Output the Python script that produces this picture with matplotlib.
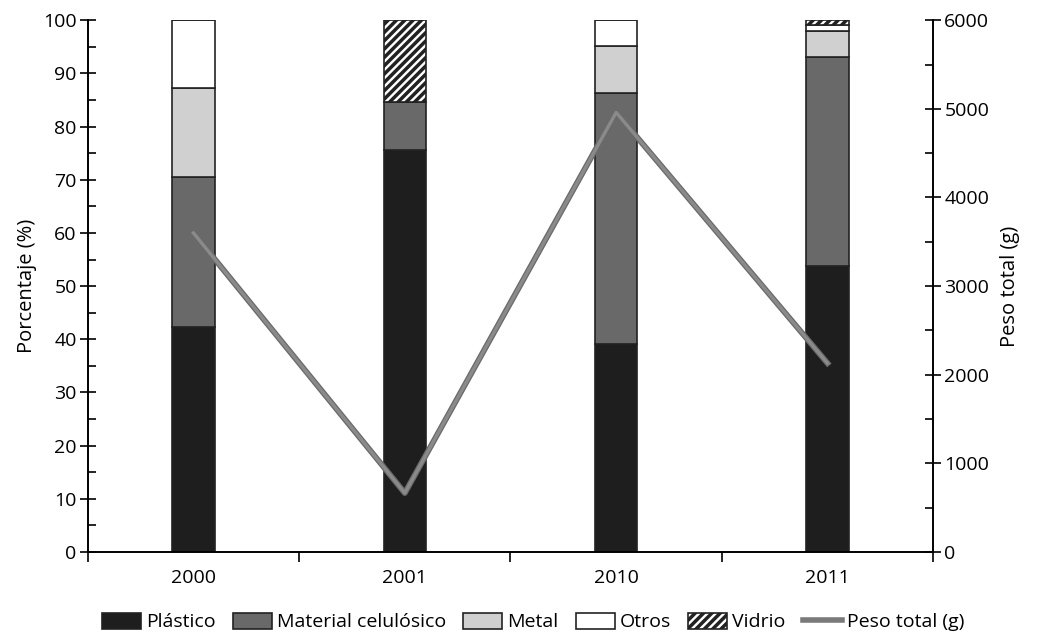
import matplotlib.pyplot as plt
import matplotlib.patheffects as pe
from matplotlib.patches import Patch
from matplotlib.lines import Line2D
from matplotlib.ticker import MultipleLocator
import numpy as np

plt.rcParams['font.family'] = ['Open Sans', 'DejaVu Sans']
plt.rcParams['hatch.linewidth'] = 2.5

# datos
anios = ['2000', '2001', '2010', '2011']
plastico = [42.3, 75.6, 39.1, 53.8]
celulosico = [28.2, 9.0, 47.2, 39.2]
metal = [16.7, 0.0, 8.8, 5.0]
otros = [12.8, 0.0, 4.9, 1.2]
vidrio = [0.0, 15.4, 0.0, 0.8]
peso_total = [3600, 665, 4960, 2130]

x = np.arange(len(anios))
ancho = 0.2

fig, ax = plt.subplots(figsize=(10.45, 6.33), dpi=100)
fig.subplots_adjust(left=0.084, right=0.893, top=0.968, bottom=0.128)

capas = [
    ('Plástico', plastico, '#1e1e1e', None),
    ('Material celulósico', celulosico, '#696969', None),
    ('Metal', metal, '#d0d0d0', None),
    ('Otros', otros, 'white', None),
    ('Vidrio', vidrio, 'white', '////'),
]
base = np.zeros(len(anios))
handles = []
for nombre, vals, color, hatch in capas:
    vals = np.array(vals)
    ax.bar(x, vals, ancho, bottom=base, color=color, edgecolor='#222222',
           linewidth=1.2, hatch=hatch, zorder=2)
    base += vals
    handles.append(Patch(facecolor=color, edgecolor='#222222', hatch=hatch, linewidth=1.2, label=nombre))

ax.set_xlim(-0.5, 3.5)
ax.set_ylim(0, 100)
ax.set_xticks(x)
ax.set_xticklabels(anios)
ax.set_xticks([-0.5, 0.5, 1.5, 2.5, 3.5], minor=True)
ax.tick_params(axis='x', which='major', length=0, labelsize=14, pad=12)
ax.tick_params(axis='x', which='minor', length=7, direction='out', width=1.2)
ax.yaxis.set_major_locator(MultipleLocator(10))
ax.yaxis.set_minor_locator(MultipleLocator(5))
ax.tick_params(axis='y', which='major', direction='inout', length=12, width=1.2, labelsize=14, pad=2)
ax.tick_params(axis='y', which='minor', direction='in', length=6, width=1.2)
ax.set_ylabel('Porcentaje (%)', fontsize=14.5, labelpad=4)
ax.spines['top'].set_visible(False)
ax.spines['right'].set_visible(False)
for s in ['left', 'bottom']:
    ax.spines[s].set_linewidth(1.4)

ax2 = ax.twinx()
ax2.plot(x, peso_total, color='#8a8a8a', linewidth=2.4, zorder=3,
         path_effects=[pe.Stroke(linewidth=4.2, foreground='#6a6a6a'), pe.Normal()])
ax2.set_ylim(0, 6000)
ax2.yaxis.set_major_locator(MultipleLocator(1000))
ax2.yaxis.set_minor_locator(MultipleLocator(500))
ax2.tick_params(axis='y', which='major', direction='inout', length=12, width=1.2, labelsize=14, pad=2)
ax2.tick_params(axis='y', which='minor', direction='in', length=6, width=1.2)
ax2.set_ylabel('Peso total (g)', fontsize=14.5, labelpad=8)
ax2.spines['top'].set_visible(False)
ax2.spines['left'].set_visible(False)
ax2.spines['bottom'].set_visible(False)
ax2.spines['right'].set_linewidth(1.4)

handles.append(Line2D([0], [0], color='#7a7a7a', linewidth=4, label='Peso total (g)'))
fig.legend(handles=handles, loc='lower center', bbox_to_anchor=(0.51, -0.025), ncol=6,
           frameon=False, fontsize=14, handlelength=2.0, handleheight=0.9,
           columnspacing=0.9, handletextpad=0.25)

fig.savefig('out.png', dpi=100)
